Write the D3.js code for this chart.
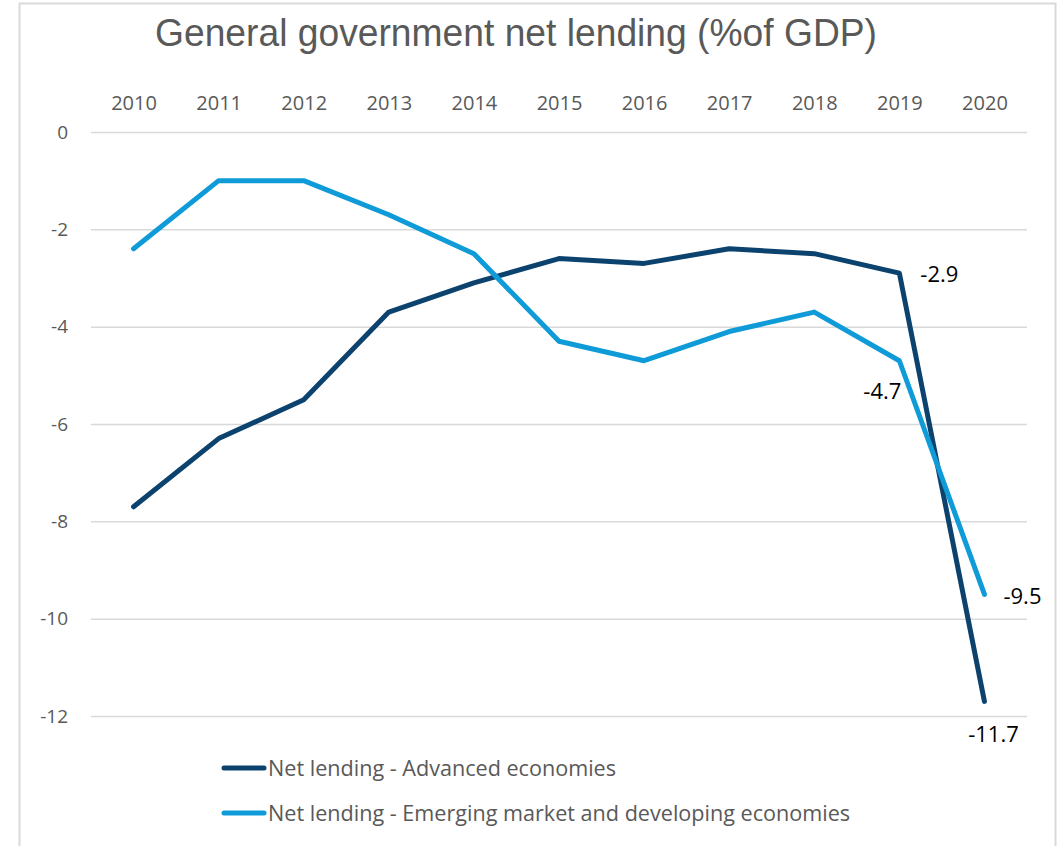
<!DOCTYPE html>
<html>
<head>
<meta charset="utf-8">
<script src="https://cdn.jsdelivr.net/npm/d3@7"></script>
<style>
  body { margin: 0; background: #fff; }
  svg { display: block; }
</style>
</head>
<body>
<div id="chart"></div>
<script>
const years = ["2010", "2011", "2012", "2013", "2014", "2015", "2016", "2017", "2018", "2019", "2020"];
const advanced = [-7.7, -6.3, -5.5, -3.7, -3.1, -2.6, -2.7, -2.4, -2.5, -2.9, -11.7];
const emerging = [-2.4, -1.0, -1.0, -1.7, -2.5, -4.3, -4.7, -4.1, -3.7, -4.7, -9.5];
const yTicks = [0, -2, -4, -6, -8, -10, -12];
const seriesNames = ["Net lending - Advanced economies", "Net lending - Emerging market and developing economies"];
const colors = ["#0c426e", "#0f9ad8"];

const W = 1063, H = 846;
const margin = { top: 132, right: 36, bottom: 130, left: 91 };
const width = W - margin.left - margin.right;
const height = 716 - margin.top;

const svg = d3.select("#chart").append("svg")
  .attr("width", W)
  .attr("height", H);

// chart border
svg.append("rect")
  .attr("x", 19.5).attr("y", 3.5)
  .attr("width", 1036).attr("height", 900)
  .attr("fill", "none")
  .attr("stroke", "#d9d9d9")
  .attr("stroke-width", 2);

svg.append("text")
  .attr("x", 516)
  .attr("y", 46)
  .attr("text-anchor", "middle")
  .attr("fill", "#595959")
  .attr("textLength", 722)
  .attr("lengthAdjust", "spacingAndGlyphs")
  .style("font-family", "'Liberation Sans', Arial, sans-serif")
  .style("font-size", "39px")
  .text("General government net lending (%of GDP)");

const g = svg.append("g").attr("transform", `translate(${margin.left},${margin.top})`);

const x = d3.scalePoint().domain(years).range([0, width]).padding(0.5);
const y = d3.scaleLinear().domain([-12, 0]).range([height, 0]);

const fmt = v => v.toFixed(1);
const labelFont = "'Open Sans', Lato, sans-serif";

// gridlines
g.append("g")
  .call(d3.axisLeft(y).tickValues(yTicks).tickSize(-width).tickFormat(""))
  .call(a => a.select(".domain").remove())
  .call(a => a.selectAll("line").attr("stroke", "#d9d9d9").attr("stroke-width", 1.5));

// y labels
g.append("g")
  .call(d3.axisLeft(y).tickValues(yTicks).tickSize(0).tickPadding(23).tickFormat(d => String(d)))
  .call(a => a.select(".domain").remove())
  .call(a => a.selectAll("text")
    .attr("fill", "#595959")
    .style("font-family", labelFont)
    .style("font-size", "19px"));

// x labels on top
g.append("g")
  .attr("transform", "translate(0,-22)")
  .call(d3.axisTop(x).tickSize(0).tickPadding(0))
  .call(a => a.select(".domain").remove())
  .call(a => a.selectAll("text")
    .attr("fill", "#595959")
    .style("font-family", labelFont)
    .style("font-size", "20px"));

const line = d3.line()
  .x((d, i) => x(years[i]))
  .y(d => y(d));

[advanced, emerging].forEach((s, k) => {
  g.append("path")
    .datum(s)
    .attr("fill", "none")
    .attr("stroke", colors[k])
    .attr("stroke-width", 5)
    .attr("stroke-linejoin", "round")
    .attr("stroke-linecap", "round")
    .attr("d", line);
});

// data labels
const labels = [
  { v: advanced[9], i: 9, dx: 21, dy: 9, anchor: "start" },
  { v: emerging[9], i: 9, dx: 2, dy: 38, anchor: "end" },
  { v: emerging[10], i: 10, dx: 19, dy: 10, anchor: "start" },
  { v: advanced[10], i: 10, dx: 9, dy: 41, anchor: "middle" }
];
g.selectAll(".dlabel")
  .data(labels)
  .enter().append("text")
  .attr("class", "dlabel")
  .attr("x", d => x(years[d.i]) + d.dx)
  .attr("y", d => y(d.v) + d.dy)
  .attr("text-anchor", d => d.anchor)
  .attr("fill", "#000")
  .style("font-family", labelFont)
  .style("font-size", "22px")
  .text(d => fmt(d.v));

// legend
const legend = svg.append("g").attr("transform", "translate(224,768)");
seriesNames.forEach((name, k) => {
  const row = legend.append("g").attr("transform", `translate(0,${k * 45})`);
  row.append("line")
    .attr("x1", 0).attr("x2", 40)
    .attr("stroke", colors[k])
    .attr("stroke-width", 5)
    .attr("stroke-linecap", "round");
  row.append("text")
    .attr("x", 44)
    .attr("y", 8)
    .attr("fill", "#595959")
    .style("font-family", labelFont)
    .style("font-size", "21.6px")
    .text(name);
});
</script>
</body>
</html>
